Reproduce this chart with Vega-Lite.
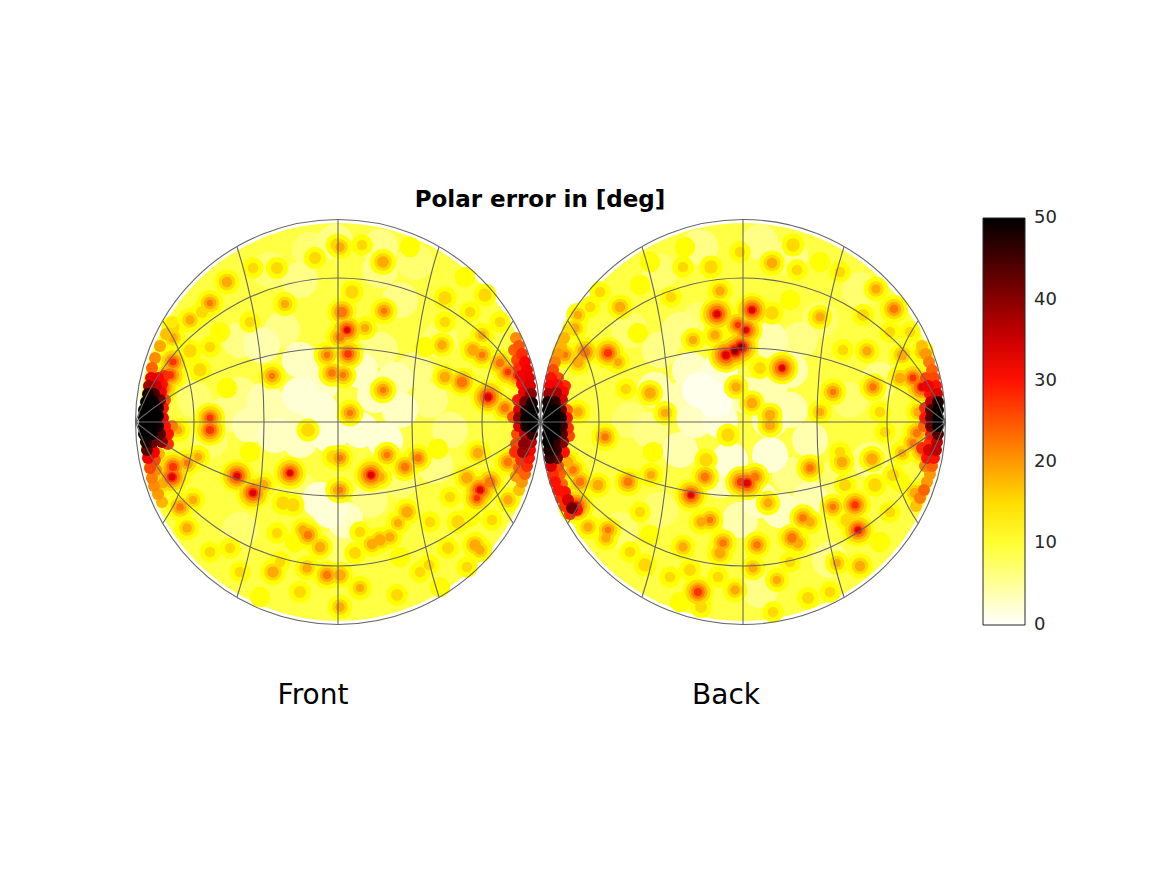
{"$schema":"https://vega.github.io/schema/vega-lite/v6.json","width":1167,"height":875,"padding":0,"autosize":{"type":"none"},"background":"white","view":{"stroke":null},
"datasets":{
"disks":[{"x":-202,"y":0},{"x":203,"y":0}],
"labels":[{"x":0,"y":222,"t":"Polar error in [deg]","k":"title"},{"x":-227,"y":-274,"t":"Front","k":"side"},{"x":186,"y":-274,"t":"Back","k":"side"}],
"barlabels":[{"x":494,"y":-203,"t":"0"},{"x":494,"y":-121,"t":"10"},{"x":494,"y":-40,"t":"20"},{"x":494,"y":41,"t":"30"},{"x":494,"y":122,"t":"40"},{"x":494,"y":204,"t":"50"}],
"barticks":[{"x":481,"x2":485,"y":-121},{"x":481,"x2":485,"y":-40},{"x":481,"x2":485,"y":41},{"x":481,"x2":485,"y":122}],
"pale":[{"x":-300,"y":82,"v":6},{"x":-278,"y":77,"v":4},{"x":-258,"y":92,"v":6},{"x":-240,"y":62,"v":3},{"x":-240,"y":27,"v":2},{"x":-220,"y":37,"v":3},{"x":-220,"y":12,"v":2},{"x":-250,"y":12,"v":4},{"x":-275,"y":22,"v":4},{"x":-300,"y":27,"v":6},{"x":-315,"y":7,"v":6},{"x":-290,"y":-3,"v":4},{"x":-265,"y":-13,"v":3},{"x":-240,"y":-18,"v":3},{"x":-210,"y":-13,"v":2},{"x":-180,"y":-8,"v":2},{"x":-155,"y":-18,"v":2},{"x":-140,"y":12,"v":3},{"x":-165,"y":27,"v":3},{"x":-145,"y":42,"v":4},{"x":-180,"y":52,"v":3},{"x":-160,"y":72,"v":6},{"x":-190,"y":92,"v":7},{"x":-125,"y":52,"v":6},{"x":-110,"y":22,"v":6},{"x":-240,"y":142,"v":6},{"x":-270,"y":152,"v":7},{"x":-140,"y":122,"v":6},{"x":-160,"y":152,"v":6},{"x":-100,"y":82,"v":7},{"x":-210,"y":-88,"v":2},{"x":-220,"y":-78,"v":2},{"x":-195,"y":-98,"v":3},{"x":-240,"y":-68,"v":7},{"x":-300,"y":-108,"v":7},{"x":-200,"y":-123,"v":7},{"x":-170,"y":-78,"v":6},{"x":-140,"y":-58,"v":7},{"x":-105,"y":-43,"v":6},{"x":-90,"y":-8,"v":6},{"x":-345,"y":22,"v":7},{"x":-330,"y":-18,"v":7},{"x":-160,"y":175,"v":6},{"x":-205,"y":180,"v":6},{"x":-125,"y":160,"v":7},{"x":-230,"y":172,"v":7},
{"x":160,"y":32,"v":1},{"x":175,"y":22,"v":1},{"x":180,"y":52,"v":2},{"x":150,"y":52,"v":3},{"x":180,"y":2,"v":2},{"x":155,"y":2,"v":3},{"x":140,"y":22,"v":4},{"x":205,"y":27,"v":4},{"x":230,"y":37,"v":4},{"x":250,"y":52,"v":4},{"x":230,"y":82,"v":4},{"x":260,"y":82,"v":6},{"x":280,"y":102,"v":7},{"x":120,"y":72,"v":6},{"x":140,"y":92,"v":6},{"x":160,"y":102,"v":7},{"x":250,"y":12,"v":4},{"x":230,"y":2,"v":3},{"x":270,"y":-18,"v":4},{"x":230,"y":-33,"v":2},{"x":190,"y":-38,"v":2},{"x":250,"y":-53,"v":6},{"x":180,"y":-58,"v":4},{"x":140,"y":-28,"v":4},{"x":110,"y":-8,"v":6},{"x":90,"y":2,"v":7},{"x":220,"y":-78,"v":3},{"x":240,"y":-88,"v":3},{"x":270,"y":-78,"v":4},{"x":290,"y":-58,"v":7},{"x":200,"y":-98,"v":4},{"x":120,"y":-88,"v":7},{"x":80,"y":-108,"v":7},{"x":290,"y":-138,"v":6},{"x":220,"y":-168,"v":6},{"x":160,"y":175,"v":6},{"x":220,"y":180,"v":6},{"x":250,"y":165,"v":6},{"x":120,"y":150,"v":7},{"x":320,"y":132,"v":7},{"x":330,"y":-38,"v":6},{"x":340,"y":42,"v":6},{"x":90,"y":92,"v":7},{"x":115,"y":32,"v":4},{"x":310,"y":22,"v":7}],
"spots":[{"x":-178,"y":177,"v":13},{"x":-130,"y":175,"v":12},{"x":-290,"y":100,"v":13},{"x":-320,"y":90,"v":12},{"x":-330,"y":75,"v":13},{"x":-290,"y":-30,"v":12},{"x":-260,"y":-140,"v":13},{"x":-300,"y":-150,"v":13},{"x":-330,"y":-130,"v":13},{"x":-280,"y":-175,"v":12},{"x":-245,"y":-120,"v":12},{"x":-120,"y":-150,"v":13},{"x":-100,"y":-165,"v":12},{"x":-70,"y":-95,"v":12},{"x":-110,"y":-100,"v":13},{"x":-90,"y":-75,"v":13},{"x":-140,"y":-135,"v":12},{"x":-180,"y":-110,"v":13},{"x":-95,"y":100,"v":13},{"x":-40,"y":100,"v":13},{"x":-70,"y":110,"v":13},{"x":-75,"y":145,"v":12},{"x":-115,"y":75,"v":12},
{"x":60,"y":130,"v":13},{"x":50,"y":115,"v":13},{"x":110,"y":160,"v":12},{"x":90,"y":-130,"v":13},{"x":100,"y":-90,"v":13},{"x":130,"y":-155,"v":13},{"x":140,"y":-180,"v":12},{"x":250,"y":-140,"v":13},{"x":290,"y":-170,"v":13},{"x":340,"y":-120,"v":12},{"x":350,"y":-90,"v":13},{"x":360,"y":-60,"v":12},{"x":350,"y":90,"v":13},{"x":300,"y":150,"v":13},{"x":370,"y":90,"v":13},{"x":280,"y":160,"v":12},{"x":200,"y":170,"v":13},{"x":145,"y":175,"v":12},{"x":300,"y":-30,"v":13},{"x":345,"y":-10,"v":13},{"x":340,"y":10,"v":13},
{"x":-313,"y":140,"v":18},{"x":-330,"y":119,"v":20},{"x":-350,"y":102,"v":17},{"x":-338,"y":110,"v":14},{"x":-367,"y":95,"v":15},{"x":-367,"y":84,"v":17},{"x":-350,"y":71,"v":15},{"x":-367,"y":60,"v":26},{"x":-370,"y":47,"v":28},{"x":-378,"y":35,"v":31},{"x":-268,"y":46,"v":20},{"x":-255,"y":118,"v":16},{"x":-263,"y":154,"v":14},{"x":-225,"y":164,"v":14},{"x":-213,"y":67,"v":20},{"x":-208,"y":49,"v":21},{"x":-330,"y":4,"v":26},{"x":-340,"y":52,"v":15},{"x":-313,"y":34,"v":12},{"x":-203,"y":177,"v":15},{"x":-287,"y":154,"v":13},
{"x":-330,"y":-8,"v":28},{"x":-362,"y":-8,"v":16},{"x":-303,"y":-54,"v":32},{"x":-287,"y":-71,"v":32},{"x":-277,"y":-63,"v":18},{"x":-250,"y":-51,"v":30},{"x":-232,"y":-8,"v":15},{"x":-368,"y":-55,"v":33},{"x":-367,"y":-45,"v":28},{"x":-353,"y":-41,"v":20},{"x":-342,"y":-35,"v":16},{"x":-377,"y":-61,"v":18},{"x":-360,"y":-85,"v":21},{"x":-347,"y":-78,"v":16},{"x":-353,"y":-106,"v":17},{"x":-247,"y":-83,"v":15},{"x":-257,"y":-81,"v":15},{"x":-232,"y":-113,"v":22},{"x":-220,"y":-125,"v":18},{"x":-237,"y":-108,"v":17},{"x":-267,"y":-150,"v":19},{"x":-233,"y":-146,"v":17},{"x":-213,"y":-153,"v":22},{"x":-240,"y":-170,"v":14},{"x":-310,"y":-126,"v":13},{"x":-263,"y":-111,"v":13},{"x":-203,"y":-68,"v":16},{"x":-207,"y":-35,"v":15},
{"x":-200,"y":-36,"v":20},{"x":-200,"y":-68,"v":20},{"x":-153,"y":-33,"v":20},{"x":-169,"y":-53,"v":32},{"x":-160,"y":-55,"v":17},{"x":-135,"y":-45,"v":22},{"x":-122,"y":-36,"v":21},{"x":-102,"y":-27,"v":12},{"x":-73,"y":-56,"v":19},{"x":-60,"y":-68,"v":32},{"x":-63,"y":-76,"v":25},{"x":-50,"y":-60,"v":24},{"x":-62,"y":-31,"v":18},{"x":-32,"y":-78,"v":17},{"x":-32,"y":-40,"v":22},{"x":-133,"y":-90,"v":19},{"x":-142,"y":-101,"v":16},{"x":-160,"y":-118,"v":19},{"x":-168,"y":-122,"v":18},{"x":-150,"y":-115,"v":17},{"x":-65,"y":-123,"v":19},{"x":-60,"y":-128,"v":17},{"x":-82,"y":-100,"v":15},{"x":-92,"y":-126,"v":14},{"x":-180,"y":-166,"v":16},{"x":-143,"y":-173,"v":14},{"x":-185,"y":-131,"v":14},{"x":-200,"y":-153,"v":19},{"x":-200,"y":-185,"v":17},{"x":-111,"y":-143,"v":13},{"x":-73,"y":-145,"v":13},{"x":-48,"y":-98,"v":13},
{"x":-200,"y":175,"v":17},{"x":-157,"y":160,"v":19},{"x":-188,"y":130,"v":15},{"x":-198,"y":110,"v":24},{"x":-193,"y":92,"v":30},{"x":-175,"y":94,"v":16},{"x":-200,"y":85,"v":22},{"x":-156,"y":111,"v":20},{"x":-192,"y":68,"v":27},{"x":-197,"y":47,"v":20},{"x":-157,"y":32,"v":20},{"x":-190,"y":9,"v":20},{"x":-98,"y":77,"v":17},{"x":-95,"y":124,"v":15},{"x":-95,"y":45,"v":18},{"x":-78,"y":40,"v":24},{"x":-67,"y":72,"v":19},{"x":-58,"y":67,"v":20},{"x":-58,"y":87,"v":16},{"x":-55,"y":127,"v":15},{"x":-52,"y":25,"v":34},{"x":-40,"y":59,"v":22},{"x":-32,"y":50,"v":25},{"x":-23,"y":47,"v":28},{"x":-35,"y":14,"v":22},
{"x":180,"y":131,"v":17},{"x":177,"y":108,"v":33},{"x":198,"y":97,"v":25},{"x":206,"y":92,"v":30},{"x":195,"y":71,"v":40},{"x":186,"y":67,"v":35},{"x":201,"y":75,"v":40},{"x":175,"y":87,"v":17},{"x":153,"y":82,"v":16},{"x":171,"y":155,"v":15},{"x":143,"y":155,"v":13},{"x":80,"y":115,"v":18},{"x":68,"y":69,"v":28},{"x":78,"y":60,"v":16},{"x":45,"y":70,"v":24},{"x":38,"y":60,"v":19},{"x":38,"y":10,"v":17},{"x":110,"y":29,"v":19},{"x":86,"y":33,"v":13},{"x":125,"y":9,"v":16},{"x":196,"y":35,"v":17},{"x":98,"y":89,"v":12},{"x":131,"y":125,"v":13},{"x":100,"y":137,"v":12},{"x":38,"y":107,"v":16},{"x":35,"y":94,"v":17},{"x":25,"y":67,"v":20},
{"x":212,"y":112,"v":32},{"x":232,"y":109,"v":15},{"x":242,"y":54,"v":30},{"x":220,"y":54,"v":14},{"x":232,"y":159,"v":18},{"x":257,"y":152,"v":13},{"x":253,"y":177,"v":15},{"x":280,"y":105,"v":17},{"x":250,"y":122,"v":12},{"x":303,"y":72,"v":13},{"x":327,"y":71,"v":17},{"x":333,"y":35,"v":21},{"x":293,"y":30,"v":20},{"x":280,"y":10,"v":16},{"x":212,"y":19,"v":18},{"x":230,"y":7,"v":18},{"x":336,"y":133,"v":17},{"x":354,"y":113,"v":22},{"x":323,"y":107,"v":14},{"x":362,"y":67,"v":18},{"x":382,"y":70,"v":16},{"x":360,"y":44,"v":18},{"x":373,"y":44,"v":26},{"x":382,"y":35,"v":34},{"x":378,"y":10,"v":17},
{"x":65,"y":-15,"v":21},{"x":40,"y":-60,"v":22},{"x":33,"y":-48,"v":21},{"x":28,"y":-40,"v":18},{"x":58,"y":-63,"v":18},{"x":36,"y":-84,"v":36},{"x":88,"y":-60,"v":22},{"x":111,"y":-53,"v":16},{"x":113,"y":-30,"v":12},{"x":151,"y":-73,"v":30},{"x":165,"y":-55,"v":22},{"x":166,"y":-38,"v":15},{"x":188,"y":-13,"v":15},{"x":201,"y":-60,"v":28},{"x":68,"y":-108,"v":20},{"x":66,"y":-116,"v":17},{"x":48,"y":-105,"v":17},{"x":170,"y":-98,"v":20},{"x":161,"y":-100,"v":17},{"x":183,"y":-121,"v":21},{"x":180,"y":-131,"v":19},{"x":143,"y":-125,"v":17},{"x":105,"y":-143,"v":15},{"x":158,"y":-170,"v":28},{"x":195,"y":-168,"v":17},{"x":150,"y":-148,"v":14},{"x":178,"y":-155,"v":13},{"x":161,"y":-185,"v":14},{"x":110,"y":-113,"v":12},
{"x":207,"y":-61,"v":33},{"x":215,"y":-55,"v":22},{"x":230,"y":-3,"v":18},{"x":270,"y":-46,"v":21},{"x":302,"y":-40,"v":18},{"x":332,"y":-37,"v":19},{"x":335,"y":-63,"v":15},{"x":305,"y":-63,"v":14},{"x":228,"y":-81,"v":17},{"x":293,"y":-85,"v":20},{"x":315,"y":-83,"v":27},{"x":263,"y":-96,"v":21},{"x":270,"y":-100,"v":17},{"x":307,"y":-98,"v":15},{"x":318,"y":-108,"v":30},{"x":252,"y":-116,"v":23},{"x":258,"y":-121,"v":18},{"x":217,"y":-123,"v":21},{"x":213,"y":-146,"v":17},{"x":237,"y":-158,"v":16},{"x":297,"y":-141,"v":16},{"x":320,"y":-144,"v":18},{"x":268,"y":-176,"v":14},{"x":233,"y":-190,"v":13},{"x":377,"y":-11,"v":22},{"x":373,"y":-21,"v":21},{"x":383,"y":-28,"v":26},{"x":375,"y":-71,"v":18},{"x":362,"y":-31,"v":16},{"x":353,"y":-53,"v":14}],
"fine":[{"x":-396,"y":4,"v":50},{"x":-388,"y":4,"v":50},{"x":-382,"y":6,"v":50},{"x":-377,"y":4,"v":32},{"x":-396,"y":12,"v":50},{"x":-388,"y":12,"v":50},{"x":-382,"y":14,"v":48},{"x":-377,"y":14,"v":30},{"x":-394,"y":20,"v":50},{"x":-387,"y":20,"v":50},{"x":-380,"y":22,"v":42},{"x":-375,"y":22,"v":26},{"x":-392,"y":28,"v":48},{"x":-386,"y":28,"v":45},{"x":-379,"y":30,"v":32},{"x":-391,"y":36,"v":38},{"x":-384,"y":36,"v":35},{"x":-378,"y":38,"v":30},{"x":-389,"y":44,"v":33},{"x":-382,"y":44,"v":31},{"x":-376,"y":46,"v":28},{"x":-388,"y":54,"v":24},{"x":-385,"y":64,"v":21},{"x":-380,"y":76,"v":19},{"x":-374,"y":88,"v":17},{"x":-368,"y":100,"v":14},
{"x":-396,"y":-4,"v":50},{"x":-388,"y":-4,"v":50},{"x":-382,"y":-4,"v":48},{"x":-375,"y":-4,"v":30},{"x":-368,"y":-4,"v":22},{"x":-396,"y":-12,"v":50},{"x":-388,"y":-12,"v":50},{"x":-380,"y":-12,"v":44},{"x":-372,"y":-12,"v":30},{"x":-394,"y":-20,"v":48},{"x":-387,"y":-20,"v":42},{"x":-378,"y":-20,"v":40},{"x":-372,"y":-22,"v":28},{"x":-393,"y":-28,"v":44},{"x":-386,"y":-30,"v":32},{"x":-392,"y":-36,"v":32},{"x":-385,"y":-38,"v":26},{"x":-381,"y":-32,"v":18},{"x":-390,"y":-46,"v":26},{"x":-384,"y":-48,"v":21},{"x":-388,"y":-56,"v":22},{"x":-386,"y":-64,"v":21},{"x":-382,"y":-72,"v":20},{"x":-378,"y":-80,"v":18},
{"x":-7,"y":3,"v":50},{"x":-14,"y":3,"v":50},{"x":-21,"y":4,"v":40},{"x":-27,"y":5,"v":26},{"x":-7,"y":11,"v":50},{"x":-14,"y":11,"v":48},{"x":-21,"y":12,"v":34},{"x":-8,"y":19,"v":48},{"x":-15,"y":20,"v":42},{"x":-22,"y":22,"v":30},{"x":-9,"y":28,"v":40},{"x":-16,"y":30,"v":33},{"x":-10,"y":36,"v":34},{"x":-18,"y":38,"v":31},{"x":-11,"y":44,"v":33},{"x":-19,"y":46,"v":32},{"x":-13,"y":52,"v":32},{"x":-21,"y":54,"v":28},{"x":-15,"y":60,"v":31},{"x":-23,"y":62,"v":26},{"x":-18,"y":68,"v":28},{"x":-26,"y":72,"v":24},{"x":-21,"y":76,"v":25},{"x":-24,"y":84,"v":21},
{"x":-7,"y":-4,"v":50},{"x":-14,"y":-4,"v":48},{"x":-21,"y":-4,"v":34},{"x":-8,"y":-12,"v":46},{"x":-15,"y":-12,"v":36},{"x":-23,"y":-12,"v":26},{"x":-9,"y":-20,"v":36},{"x":-16,"y":-22,"v":40},{"x":-24,"y":-22,"v":26},{"x":-10,"y":-28,"v":32},{"x":-17,"y":-30,"v":38},{"x":-25,"y":-30,"v":28},{"x":-11,"y":-36,"v":30},{"x":-19,"y":-38,"v":28},{"x":-13,"y":-44,"v":28},{"x":-21,"y":-46,"v":24},{"x":-15,"y":-52,"v":24},{"x":-24,"y":-54,"v":20},{"x":-18,"y":-60,"v":20},{"x":-21,"y":-68,"v":17},
{"x":8,"y":4,"v":50},{"x":15,"y":4,"v":50},{"x":21,"y":4,"v":48},{"x":27,"y":4,"v":30},{"x":8,"y":12,"v":50},{"x":15,"y":12,"v":50},{"x":21,"y":12,"v":42},{"x":27,"y":12,"v":24},{"x":8,"y":20,"v":48},{"x":15,"y":20,"v":46},{"x":22,"y":22,"v":34},{"x":9,"y":28,"v":38},{"x":16,"y":29,"v":38},{"x":23,"y":30,"v":31},{"x":10,"y":36,"v":32},{"x":17,"y":37,"v":31},{"x":25,"y":36,"v":28},{"x":11,"y":44,"v":30},{"x":18,"y":44,"v":26},{"x":13,"y":52,"v":26},{"x":15,"y":60,"v":22},{"x":18,"y":68,"v":20},{"x":21,"y":76,"v":18},{"x":24,"y":84,"v":18},{"x":28,"y":92,"v":15},
{"x":8,"y":-4,"v":50},{"x":15,"y":-4,"v":50},{"x":22,"y":-4,"v":46},{"x":28,"y":-6,"v":28},{"x":8,"y":-12,"v":50},{"x":15,"y":-12,"v":50},{"x":22,"y":-12,"v":44},{"x":29,"y":-14,"v":26},{"x":8,"y":-20,"v":50},{"x":15,"y":-20,"v":46},{"x":23,"y":-20,"v":40},{"x":9,"y":-28,"v":48},{"x":16,"y":-28,"v":46},{"x":10,"y":-36,"v":46},{"x":17,"y":-36,"v":42},{"x":24,"y":-30,"v":30},{"x":11,"y":-44,"v":34},{"x":18,"y":-44,"v":26},{"x":13,"y":-52,"v":28},{"x":20,"y":-52,"v":24},{"x":15,"y":-60,"v":30},{"x":22,"y":-62,"v":24},{"x":18,"y":-68,"v":30},{"x":25,"y":-70,"v":30},{"x":21,"y":-76,"v":28},{"x":28,"y":-78,"v":34},{"x":25,"y":-84,"v":28},{"x":32,"y":-86,"v":42},{"x":30,"y":-92,"v":28},{"x":37,"y":-88,"v":30},
{"x":398,"y":4,"v":50},{"x":391,"y":4,"v":44},{"x":385,"y":4,"v":30},{"x":398,"y":12,"v":50},{"x":391,"y":12,"v":44},{"x":385,"y":14,"v":28},{"x":398,"y":20,"v":48},{"x":391,"y":20,"v":36},{"x":397,"y":28,"v":34},{"x":390,"y":28,"v":30},{"x":396,"y":36,"v":30},{"x":388,"y":36,"v":32},{"x":394,"y":44,"v":26},{"x":386,"y":44,"v":26},{"x":392,"y":52,"v":24},{"x":389,"y":60,"v":22},{"x":386,"y":68,"v":20},{"x":382,"y":76,"v":17},
{"x":398,"y":-4,"v":50},{"x":391,"y":-4,"v":42},{"x":384,"y":-4,"v":24},{"x":398,"y":-12,"v":44},{"x":391,"y":-12,"v":30},{"x":397,"y":-20,"v":36},{"x":390,"y":-20,"v":28},{"x":396,"y":-28,"v":36},{"x":389,"y":-28,"v":34},{"x":382,"y":-26,"v":28},{"x":394,"y":-36,"v":30},{"x":387,"y":-36,"v":30},{"x":392,"y":-44,"v":24},{"x":385,"y":-44,"v":22},{"x":390,"y":-52,"v":20},{"x":387,"y":-60,"v":20},{"x":384,"y":-68,"v":24},{"x":380,"y":-76,"v":22},{"x":376,"y":-84,"v":17}],
"arcs":[
{"c":"a1","x":-404.5,"y":0},{"c":"a1","x":-377,"y":20.7},{"c":"a1","x":-352,"y":35.9},{"c":"a1","x":-302,"y":57.6},{"c":"a1","x":-252,"y":70},{"c":"a1","x":-202,"y":74},{"c":"a1","x":-152,"y":70},{"c":"a1","x":-102,"y":57.6},{"c":"a1","x":-52,"y":35.9},{"c":"a1","x":-27,"y":20.7},{"c":"a1","x":0.5,"y":0},
{"c":"a2","x":-404.5,"y":0},{"c":"a2","x":-377,"y":-20.7},{"c":"a2","x":-352,"y":-35.9},{"c":"a2","x":-302,"y":-57.6},{"c":"a2","x":-252,"y":-70},{"c":"a2","x":-202,"y":-74},{"c":"a2","x":-152,"y":-70},{"c":"a2","x":-102,"y":-57.6},{"c":"a2","x":-52,"y":-35.9},{"c":"a2","x":-27,"y":-20.7},{"c":"a2","x":0.5,"y":0},
{"c":"a3","x":0.5,"y":0},{"c":"a3","x":28,"y":20.7},{"c":"a3","x":53,"y":35.9},{"c":"a3","x":103,"y":57.6},{"c":"a3","x":153,"y":70},{"c":"a3","x":203,"y":74},{"c":"a3","x":253,"y":70},{"c":"a3","x":303,"y":57.6},{"c":"a3","x":353,"y":35.9},{"c":"a3","x":378,"y":20.7},{"c":"a3","x":405.5,"y":0},
{"c":"a4","x":0.5,"y":0},{"c":"a4","x":28,"y":-20.7},{"c":"a4","x":53,"y":-35.9},{"c":"a4","x":103,"y":-57.6},{"c":"a4","x":153,"y":-70},{"c":"a4","x":203,"y":-74},{"c":"a4","x":253,"y":-70},{"c":"a4","x":303,"y":-57.6},{"c":"a4","x":353,"y":-35.9},{"c":"a4","x":378,"y":-20.7},{"c":"a4","x":405.5,"y":0},
{"c":"b1","x":-404.5,"y":0},{"c":"b1","x":-392,"y":28.9},{"c":"b1","x":-377,"y":53.5},{"c":"b1","x":-352,"y":82.8},{"c":"b1","x":-302,"y":119},{"c":"b1","x":-252,"y":138},{"c":"b1","x":-202,"y":144},{"c":"b1","x":-152,"y":138},{"c":"b1","x":-102,"y":119},{"c":"b1","x":-52,"y":82.8},{"c":"b1","x":-27,"y":53.5},{"c":"b1","x":-12,"y":28.9},{"c":"b1","x":0.5,"y":0},
{"c":"b2","x":-404.5,"y":0},{"c":"b2","x":-392,"y":-28.9},{"c":"b2","x":-377,"y":-53.5},{"c":"b2","x":-352,"y":-82.8},{"c":"b2","x":-302,"y":-119},{"c":"b2","x":-252,"y":-138},{"c":"b2","x":-202,"y":-144},{"c":"b2","x":-152,"y":-138},{"c":"b2","x":-102,"y":-119},{"c":"b2","x":-52,"y":-82.8},{"c":"b2","x":-27,"y":-53.5},{"c":"b2","x":-12,"y":-28.9},{"c":"b2","x":0.5,"y":0},
{"c":"b3","x":0.5,"y":0},{"c":"b3","x":13,"y":28.9},{"c":"b3","x":28,"y":53.5},{"c":"b3","x":53,"y":82.8},{"c":"b3","x":103,"y":119},{"c":"b3","x":153,"y":138},{"c":"b3","x":203,"y":144},{"c":"b3","x":253,"y":138},{"c":"b3","x":303,"y":119},{"c":"b3","x":353,"y":82.8},{"c":"b3","x":378,"y":53.5},{"c":"b3","x":393,"y":28.9},{"c":"b3","x":405.5,"y":0},
{"c":"b4","x":0.5,"y":0},{"c":"b4","x":13,"y":-28.9},{"c":"b4","x":28,"y":-53.5},{"c":"b4","x":53,"y":-82.8},{"c":"b4","x":103,"y":-119},{"c":"b4","x":153,"y":-138},{"c":"b4","x":203,"y":-144},{"c":"b4","x":253,"y":-138},{"c":"b4","x":303,"y":-119},{"c":"b4","x":353,"y":-82.8},{"c":"b4","x":378,"y":-53.5},{"c":"b4","x":393,"y":-28.9},{"c":"b4","x":405.5,"y":0},
{"c":"e1","x":-404.5,"y":0},{"c":"e1","x":0.5,"y":0},{"c":"e2","x":0.5,"y":0},{"c":"e2","x":405.5,"y":0}],
"laterals":[
{"c":"m1","x":-202,"y":-202.5},{"c":"m1","x":-202,"y":202.5},{"c":"m2","x":203,"y":-202.5},{"c":"m2","x":203,"y":202.5},
{"c":"i1","x":-303,"y":-175},{"c":"i1","x":-295.7,"y":-150},{"c":"i1","x":-284.7,"y":-100},{"c":"i1","x":-278.2,"y":-50},{"c":"i1","x":-276,"y":0},{"c":"i1","x":-278.2,"y":50},{"c":"i1","x":-284.7,"y":100},{"c":"i1","x":-295.7,"y":150},{"c":"i1","x":-303,"y":175},
{"c":"i2","x":-101,"y":-175},{"c":"i2","x":-108.3,"y":-150},{"c":"i2","x":-119.3,"y":-100},{"c":"i2","x":-125.8,"y":-50},{"c":"i2","x":-128,"y":0},{"c":"i2","x":-125.8,"y":50},{"c":"i2","x":-119.3,"y":100},{"c":"i2","x":-108.3,"y":150},{"c":"i2","x":-101,"y":175},
{"c":"i3","x":102,"y":-175},{"c":"i3","x":109.3,"y":-150},{"c":"i3","x":120.3,"y":-100},{"c":"i3","x":126.8,"y":-50},{"c":"i3","x":129,"y":0},{"c":"i3","x":126.8,"y":50},{"c":"i3","x":120.3,"y":100},{"c":"i3","x":109.3,"y":150},{"c":"i3","x":102,"y":175},
{"c":"i4","x":304,"y":-175},{"c":"i4","x":296.7,"y":-150},{"c":"i4","x":285.7,"y":-100},{"c":"i4","x":279.2,"y":-50},{"c":"i4","x":277,"y":0},{"c":"i4","x":279.2,"y":50},{"c":"i4","x":285.7,"y":100},{"c":"i4","x":296.7,"y":150},{"c":"i4","x":304,"y":175},
{"c":"o1","x":-377,"y":-101},{"c":"o1","x":-364.8,"y":-80},{"c":"o1","x":-350.5,"y":-40},{"c":"o1","x":-346,"y":0},{"c":"o1","x":-350.5,"y":40},{"c":"o1","x":-364.8,"y":80},{"c":"o1","x":-377,"y":101},
{"c":"o2","x":-27,"y":-101},{"c":"o2","x":-39.2,"y":-80},{"c":"o2","x":-53.5,"y":-40},{"c":"o2","x":-58,"y":0},{"c":"o2","x":-53.5,"y":40},{"c":"o2","x":-39.2,"y":80},{"c":"o2","x":-27,"y":101},
{"c":"o3","x":28,"y":-101},{"c":"o3","x":40.2,"y":-80},{"c":"o3","x":54.5,"y":-40},{"c":"o3","x":59,"y":0},{"c":"o3","x":54.5,"y":40},{"c":"o3","x":40.2,"y":80},{"c":"o3","x":28,"y":101},
{"c":"o4","x":378,"y":-101},{"c":"o4","x":365.8,"y":-80},{"c":"o4","x":351.5,"y":-40},{"c":"o4","x":347,"y":0},{"c":"o4","x":351.5,"y":40},{"c":"o4","x":365.8,"y":80},{"c":"o4","x":378,"y":101}]
},
"encoding":{
"x":{"field":"x","type":"quantitative","scale":{"domain":[-540,627],"nice":false,"zero":false},"axis":null},
"y":{"field":"y","type":"quantitative","scale":{"domain":[-453,422],"nice":false,"zero":false},"axis":null}},
"resolve":{"scale":{"size":"independent"}},
"layer":[
{"data":{"name":"disks"},"mark":{"type":"point","shape":"circle","filled":true,"opacity":1,"color":"#ffff44","size":158400}},
{"data":{"name":"pale"},"mark":{"type":"point","shape":"circle","filled":true,"opacity":1,"size":1300},"encoding":{"order":{"field":"v","sort":"descending"},"color":{"field":"v","type":"quantitative","scale":{"domain":[0,12.5,31.25,50],"range":["#ffffff","#ffff00","#ff0000","#000000"],"interpolate":"rgb"},"legend":{"orient":"none","legendX":983,"legendY":218,"title":null,"gradientLength":407,"gradientThickness":42,"values":[0,10,20,30,40,50],"labelOpacity":0,"labelFontSize":1,"gradientStrokeColor":"#262626","gradientStrokeWidth":1}}}},
{"data":{"name":"spots"},"mark":{"type":"point","shape":"circle","filled":true,"opacity":1,"color":"#ffff00"},"encoding":{"size":{"field":"v","type":"quantitative","scale":{"domain":[12,35],"range":[420,1250],"clamp":true},"legend":null}}},
{"data":{"name":"spots"},"transform":[{"filter":"datum.v>=13"}],"mark":{"type":"point","shape":"circle","filled":true,"opacity":1,"color":"#ffd800"},"encoding":{"size":{"field":"v","type":"quantitative","scale":{"domain":[13,35],"range":[110,850],"clamp":true},"legend":null}}},
{"data":{"name":"spots"},"transform":[{"filter":"datum.v>=16"}],"mark":{"type":"point","shape":"circle","filled":true,"opacity":1,"color":"#ffaa00"},"encoding":{"size":{"field":"v","type":"quantitative","scale":{"domain":[16,35],"range":[64,500],"clamp":true},"legend":null}}},
{"data":{"name":"spots"},"transform":[{"filter":"datum.v>=20"}],"mark":{"type":"point","shape":"circle","filled":true,"opacity":1,"color":"#ff7700"},"encoding":{"size":{"field":"v","type":"quantitative","scale":{"domain":[20,35],"range":[40,300],"clamp":true},"legend":null}}},
{"data":{"name":"spots"},"transform":[{"filter":"datum.v>=25"}],"mark":{"type":"point","shape":"circle","filled":true,"opacity":1,"color":"#ff3300"},"encoding":{"size":{"field":"v","type":"quantitative","scale":{"domain":[25,40],"range":[40,170],"clamp":true},"legend":null}}},
{"data":{"name":"spots"},"transform":[{"filter":"datum.v>=29"}],"mark":{"type":"point","shape":"circle","filled":true,"opacity":1,"color":"#e00000"},"encoding":{"size":{"field":"v","type":"quantitative","scale":{"domain":[29,45],"range":[30,110],"clamp":true},"legend":null}}},
{"data":{"name":"spots"},"transform":[{"filter":"datum.v>=36"}],"mark":{"type":"point","shape":"circle","filled":true,"opacity":1,"color":"#800000"},"encoding":{"size":{"field":"v","type":"quantitative","scale":{"domain":[36,50],"range":[25,64],"clamp":true},"legend":null}}},
{"data":{"name":"fine"},"mark":{"type":"point","shape":"circle","filled":true,"opacity":1,"size":144},"encoding":{"order":{"field":"v"},"color":{"field":"v","type":"quantitative","scale":{"domain":[0,12.5,31.25,50],"range":["#ffffff","#ffff00","#ff0000","#000000"],"interpolate":"rgb"},"legend":{"orient":"none","legendX":983,"legendY":218,"title":null,"gradientLength":407,"gradientThickness":42,"values":[0,10,20,30,40,50],"labelOpacity":0,"labelFontSize":1,"gradientStrokeColor":"#262626","gradientStrokeWidth":1}}}},
{"data":{"name":"arcs"},"mark":{"type":"line","interpolate":"catmull-rom","color":"#666666","strokeWidth":1.1},"encoding":{"detail":{"field":"c"}}},
{"data":{"name":"laterals"},"mark":{"type":"line","interpolate":"catmull-rom","color":"#666666","strokeWidth":1.1},"encoding":{"detail":{"field":"c"},"order":{"field":"y"}}},
{"data":{"name":"disks"},"mark":{"type":"point","shape":"circle","filled":false,"opacity":1,"color":"#666666","strokeWidth":1.1,"size":164025}},
{"data":{"name":"barticks"},"mark":{"type":"rule","color":"#262626","strokeWidth":1},"encoding":{"x2":{"field":"x2"}}},
{"data":{"name":"barlabels"},"mark":{"type":"text","font":"DejaVu Sans","fontSize":18,"color":"#262626","align":"left","baseline":"middle"},"encoding":{"text":{"field":"t"}}},
{"data":{"name":"labels"},"transform":[{"filter":"datum.k=='title'"}],"mark":{"type":"text","font":"DejaVu Sans","fontWeight":"bold","fontSize":23,"color":"#000000","align":"center","baseline":"middle"},"encoding":{"text":{"field":"t"}}},
{"data":{"name":"labels"},"transform":[{"filter":"datum.k=='side'"}],"mark":{"type":"text","font":"DejaVu Sans","fontSize":28,"color":"#000000","align":"center","baseline":"middle"},"encoding":{"text":{"field":"t"}}}
]}
